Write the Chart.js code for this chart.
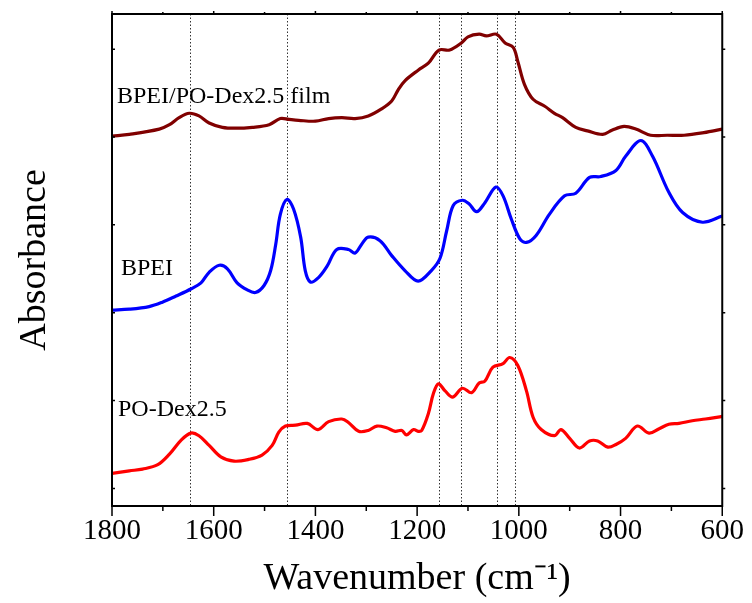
<!DOCTYPE html>
<html>
<head>
<meta charset="utf-8">
<script src="https://cdn.jsdelivr.net/npm/chart.js@4.4.1/dist/chart.umd.min.js"></script>
<style>
  html, body { margin: 0; padding: 0; background: #ffffff; }
  #wrap { width: 752px; height: 603px; position: relative; }
</style>
</head>
<body>
<div id="wrap"><canvas id="c" width="752" height="603"></canvas></div>
<script>
// ---- data (wavenumber in cm-1, absorbance offset per trace) ----
const wnFilm = [1800,1766,1707,1687,1668,1648,1629,1609,1583,1557,1524,1491,1469,1452,1433,1400,1374,1348,1322,1296,1270,1250,1237,1224,1198,1178,1157,1136,1113,1100,1078,1064,1044,1027,1011,1002,989,972,949,930,914,888,865,835,816,793,770,741,708,675,636,600];
const absFilm = [4.01,4.03,4.09,4.14,4.22,4.27,4.24,4.16,4.11,4.10,4.11,4.14,4.21,4.20,4.19,4.18,4.21,4.22,4.21,4.24,4.32,4.41,4.54,4.64,4.76,4.84,4.99,4.99,5.07,5.14,5.17,5.15,5.17,5.07,5.02,4.86,4.60,4.43,4.35,4.27,4.22,4.11,4.07,4.03,4.08,4.12,4.09,4.02,4.02,4.02,4.05,4.09];

const wnBPEI = [1800,1766,1727,1701,1674,1645,1625,1609,1589,1573,1554,1534,1518,1501,1488,1478,1469,1456,1443,1429,1420,1410,1394,1377,1358,1335,1322,1309,1296,1273,1250,1224,1198,1172,1155,1142,1129,1111,1098,1083,1067,1045,1031,1015,998,985,966,940,910,888,861,839,809,790,760,737,705,678,639,600];
const absBPEI = [2.03,2.04,2.07,2.12,2.19,2.27,2.34,2.46,2.54,2.50,2.34,2.26,2.23,2.31,2.48,2.78,3.12,3.29,3.18,2.86,2.48,2.35,2.40,2.53,2.72,2.72,2.68,2.78,2.86,2.82,2.65,2.48,2.36,2.48,2.62,2.93,3.22,3.28,3.24,3.15,3.25,3.43,3.33,3.07,2.84,2.80,2.88,3.12,3.33,3.36,3.54,3.55,3.62,3.78,3.96,3.78,3.37,3.14,3.03,3.10];

const wnPODex = [1800,1766,1740,1710,1687,1664,1645,1629,1609,1586,1560,1531,1505,1485,1472,1459,1439,1416,1395,1374,1348,1335,1315,1296,1279,1260,1243,1230,1221,1207,1198,1191,1178,1168,1158,1145,1130,1111,1093,1078,1067,1051,1031,1018,1002,985,972,956,930,917,900,881,861,845,825,809,790,767,744,724,705,685,659,633,600];
const absPODex = [0.17,0.20,0.22,0.27,0.39,0.55,0.63,0.60,0.49,0.36,0.31,0.33,0.38,0.49,0.64,0.71,0.72,0.74,0.67,0.76,0.79,0.75,0.65,0.66,0.71,0.69,0.65,0.66,0.61,0.67,0.65,0.66,0.85,1.08,1.19,1.11,1.04,1.14,1.09,1.20,1.22,1.38,1.42,1.49,1.40,1.11,0.81,0.67,0.60,0.67,0.57,0.46,0.54,0.54,0.47,0.50,0.57,0.71,0.63,0.68,0.73,0.74,0.77,0.79,0.82];

const seriesNames = ["BPEI/PO-Dex2.5 film", "BPEI", "PO-Dex2.5"];
const markerLines = [1646, 1455, 1157, 1114, 1043, 1008];
const xMajorTicks = [1800, 1600, 1400, 1200, 1000, 800, 600];
const xMinorTicks = [1700, 1500, 1300, 1100, 900, 700];
const yTicks = [0, 1, 2, 3, 4, 5];

const toXY = (xs, ys) => xs.map((x, i) => ({ x: x, y: ys[i] }));

const SERIF = "'Liberation Serif', 'Times New Roman', serif";

const decor = {
  id: 'decor',
  beforeDatasetsDraw(chart) {
    const { ctx, chartArea: a, scales: { x } } = chart;
    ctx.save();
    ctx.strokeStyle = '#333333';
    ctx.lineWidth = 1;
    ctx.setLineDash([1.5, 2]);
    markerLines.forEach(v => {
      const px = Math.round(x.getPixelForValue(v)) + 0.5;
      ctx.beginPath();
      ctx.moveTo(px, a.top);
      ctx.lineTo(px, a.bottom);
      ctx.stroke();
    });
    ctx.restore();
  },
  afterDatasetsDraw(chart) {
    const { ctx, chartArea: a, scales: { x, y } } = chart;
    ctx.save();
    ctx.strokeStyle = '#000000';
    ctx.lineWidth = 2;
    ctx.strokeRect(a.left, a.top, a.right - a.left, a.bottom - a.top);
    ctx.lineWidth = 1.5;
    ctx.beginPath();
    xMajorTicks.forEach(v => {
      const px = x.getPixelForValue(v);
      ctx.moveTo(px, a.bottom); ctx.lineTo(px, a.bottom + 10);
      ctx.moveTo(px, a.top); ctx.lineTo(px, a.top - 3);
    });
    xMinorTicks.forEach(v => {
      const px = x.getPixelForValue(v);
      ctx.moveTo(px, a.bottom); ctx.lineTo(px, a.bottom + 5);
      ctx.moveTo(px, a.top); ctx.lineTo(px, a.top - 2);
    });
    yTicks.forEach(v => {
      const py = y.getPixelForValue(v);
      ctx.moveTo(a.left, py); ctx.lineTo(a.left + 3, py);
      ctx.moveTo(a.right, py); ctx.lineTo(a.right + 3, py);
    });
    ctx.stroke();
    // series labels
    ctx.fillStyle = '#000000';
    ctx.font = "24px " + SERIF;
    ctx.textBaseline = 'alphabetic';
    ctx.textAlign = 'left';
    ctx.fillText(seriesNames[0], a.left + 5, 103);
    ctx.fillText(seriesNames[1], a.left + 9, 275);
    ctx.fillText(seriesNames[2], a.left + 6, 416);
    ctx.restore();
  }
};

new Chart(document.getElementById('c'), {
  type: 'line',
  data: {
    datasets: [
      { label: seriesNames[0], data: toXY(wnFilm, absFilm), borderColor: '#800000', borderWidth: 3.2, pointRadius: 0, tension: 0.35, fill: false },
      { label: seriesNames[1], data: toXY(wnBPEI, absBPEI), borderColor: '#0000ff', borderWidth: 3.2, pointRadius: 0, tension: 0.35, fill: false },
      { label: seriesNames[2], data: toXY(wnPODex, absPODex), borderColor: '#ff0000', borderWidth: 3.2, pointRadius: 0, tension: 0.35, fill: false }
    ]
  },
  options: {
    responsive: false,
    animation: false,
    events: [],
    layout: { padding: { left: 0, right: 27, top: 14, bottom: 0 } },
    plugins: { legend: { display: false }, tooltip: { enabled: false } },
    scales: {
      x: {
        type: 'linear',
        reverse: true,
        min: 600, max: 1800,
        grid: { display: false, drawTicks: false },
        border: { display: false },
        ticks: {
          stepSize: 200,
          padding: 8,
          color: '#000000',
          maxRotation: 0,
          font: { family: SERIF, size: 29 },
          callback: (v) => String(v)
        },
        title: {
          display: true,
          text: 'Wavenumber (cm⁻¹)',
          color: '#000000',
          font: { family: SERIF, size: 38 },
          padding: { top: 0, bottom: 1 }
        },
        afterFit(scale) { scale.height = 97; }
      },
      y: {
        type: 'linear',
        min: -0.2, max: 5.4,
        grid: { display: false, drawTicks: false },
        border: { display: false },
        ticks: { display: false, stepSize: 1 },
        title: {
          display: true,
          text: 'Absorbance',
          color: '#000000',
          font: { family: SERIF, size: 38 },
          padding: { top: 12, bottom: 0 }
        },
        afterFit(scale) { scale.width = 112; }
      }
    }
  },
  plugins: [decor]
});
</script>
</body>
</html>
